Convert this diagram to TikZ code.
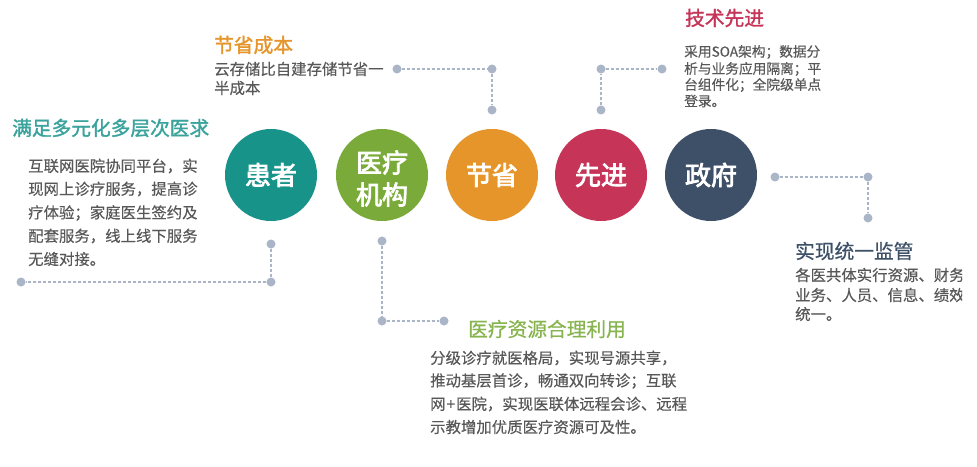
\documentclass[tikz,border=0pt]{standalone}
\usepackage{fontspec}
\setmainfont{Noto Sans CJK SC}
\newfontfamily\cjkhub[FakeBold=3]{Noto Sans CJK SC}
\newfontfamily\cjkmed[FakeBold=1.5]{Noto Sans CJK SC}
\newfontfamily\cjklite[FakeBold=0.6]{Noto Sans CJK SC}
\newfontfamily\cjkbody[FakeBold=0.3]{Noto Sans CJK SC}
\definecolor{cTeal}{HTML}{17938A}
\definecolor{cGreen}{HTML}{7AAB3A}
\definecolor{cOrange}{HTML}{E5952A}
\definecolor{cRed}{HTML}{C63558}
\definecolor{cNavy}{HTML}{3E5068}
\definecolor{cDot}{HTML}{AAB5C8}
\definecolor{cBody}{HTML}{585858}
\tikzset{
 hub/.style={circle,minimum size=92pt,inner sep=0pt,text=white,align=center,font=\fontsize{26}{29}\selectfont\cjkhub},
 dot/.style={circle,fill=cDot,minimum size=9pt,inner sep=0pt},
 link/.style={draw=cDot,line width=1.5pt,dash pattern=on 3pt off 2pt},
 head/.style={anchor=west,inner sep=0pt,font=\fontsize{19.7}{22}\selectfont\cjkmed},
 headlite/.style={anchor=west,inner sep=0pt,font=\fontsize{19.7}{22}\selectfont\cjklite},
 bodyL/.style={anchor=west,inner sep=0pt,text=cBody,font=\fontsize{15.4}{16}\selectfont\cjkbody},
 bodyS/.style={anchor=west,inner sep=0pt,text=cBody,font=\fontsize{13.7}{15}\selectfont\cjkbody}
}
\begin{document}
\begin{tikzpicture}[x=1pt,y=-1pt]
\useasboundingbox (0,0) rectangle (977,466);
\fill[white] (0,0) rectangle (977,466);
\node[hub,fill=cTeal] (h1) at (271,175) {患者};
\node[hub,fill=cGreen] (h2) at (382,175) {\rule{0pt}{29pt}医疗\\[3pt]机构};
\node[hub,fill=cOrange] (h3) at (492,175) {节省};
\node[hub,fill=cRed] (h4) at (601,175) {先进};
\node[hub,fill=cNavy] (h5) at (711,175) {政府};
% connectors
\node[dot] (a1) at (271,244) {};
\node[dot] (a2) at (271,282) {};
\node[dot] (a3) at (21,282) {};
\draw[link] (a1)--(a2)--(a3);
\node[dot] (b1) at (382,241) {};
\node[dot] (b2) at (382,321) {};
\node[dot] (b3) at (444,321) {};
\draw[link] (b1)--(b2)--(b3);
\node[dot] (c1) at (397,69) {};
\node[dot] (c2) at (492,69) {};
\node[dot] (c3) at (492,110) {};
\draw[link] (c1)--(c2)--(c3);
\node[dot] (d1) at (601,110) {};
\node[dot] (d2) at (601,69) {};
\node[dot] (d3) at (662,69) {};
\draw[link] (d1)--(d2)--(d3);
\node[dot] (e1) at (775,177) {};
\node[dot] (e2) at (868,177) {};
\node[dot] (e3) at (868,218) {};
\draw[link] (e1)--(e2)--(e3);
% left
\node[head,text=cTeal!85!white] (t1) at (12,128) {满足多元化多层次医求};
\node[bodyL] (t1a) at (28,166) {互联网医院协同平台，实};
\node[bodyL] (t1b) at (28,189) {现网上诊疗服务，提高诊};
\node[bodyL] (t1c) at (28,213) {疗体验；家庭医生签约及};
\node[bodyL] (t1d) at (28,236) {配套服务，线上线下服务};
\node[bodyL] (t1e) at (28,259) {无缝对接。};
% saving
\node[head,text=cOrange] (t2) at (214,45) {节省成本};
\node[bodyL] (t2a) at (214,69) {云存储比自建存储节省一};
\node[bodyL] (t2b) at (214,88) {半成本};
% tech
\node[head,text=cRed] (t3) at (685,18) {技术先进};
\node[bodyS] (t3a) at (684,52) {采用SOA架构；数据分};
\node[bodyS] (t3b) at (684,69) {析与业务应用隔离；平};
\node[bodyS] (t3c) at (684,85) {台组件化；全院级单点};
\node[bodyS] (t3d) at (684,101) {登录。};
% resource
\node[headlite,text=cGreen!90!white] (t4) at (468,329) {医疗资源合理利用};
\node[bodyL] (t4a) at (430,358) {分级诊疗就医格局，实现号源共享，};
\node[bodyL] (t4b) at (430,381) {推动基层首诊，畅通双向转诊；互联};
\node[bodyL] (t4c) at (430,404) {网\kern1pt+\kern1pt医院，实现医联体远程会诊、远程};
\node[bodyL] (t4d) at (430,427) {示教增加优质医疗资源可及性。};
% government
\node[headlite,text=cNavy] (t5) at (795,251) {实现统一监管};
\begin{scope}
\clip (780,262) rectangle (962,330);
\node[bodyL] (t5a) at (795,275) {各医共体实行资源、财务};
\node[bodyL] (t5b) at (795,295) {业务、人员、信息、绩效};
\node[bodyL] (t5c) at (795,314) {统一。};
\end{scope}
\end{tikzpicture}
\end{document}
